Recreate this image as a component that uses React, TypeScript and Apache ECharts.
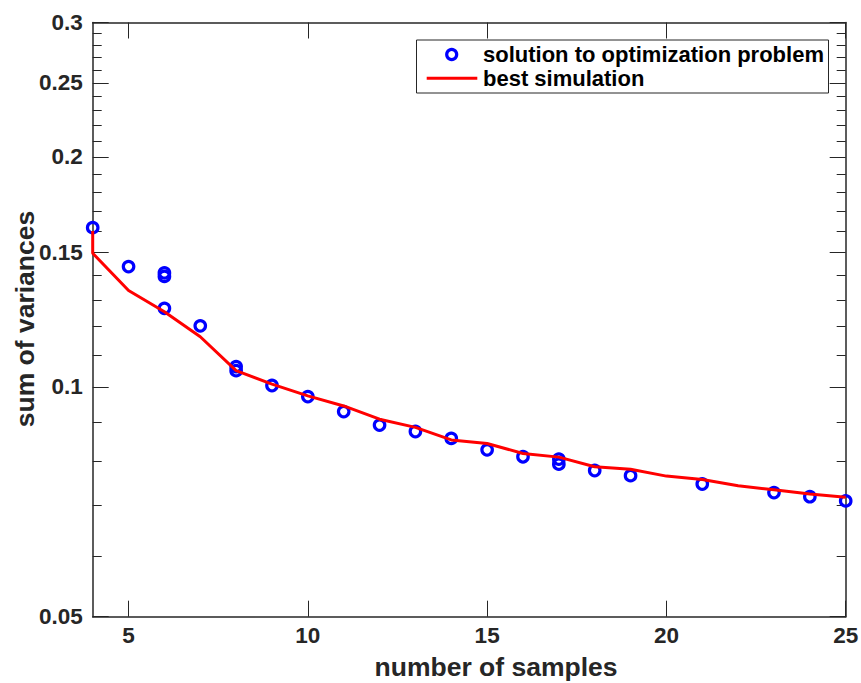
import React, { useEffect, useRef } from "react";
import * as echarts from "echarts";

const solutionX = [4, 5, 6, 6, 6, 7, 8, 8, 9, 10, 11, 12, 13, 14, 15, 16, 17, 17, 18, 19, 21, 23, 24, 25];
const solutionY = [0.1616, 0.1437, 0.141, 0.1395, 0.1267, 0.1202, 0.1063, 0.105, 0.1004, 0.0971, 0.0928, 0.0891, 0.0874, 0.0856, 0.0827, 0.081, 0.0804, 0.0792, 0.0777, 0.0765, 0.0746, 0.0727, 0.0718, 0.0709];

const simX = [4, 4, 5, 6, 7, 8, 9, 10, 11, 12, 13, 14, 15, 16, 17, 18, 19, 20, 21, 22, 23, 24, 25];
const simY = [0.16, 0.1496, 0.1337, 0.1254, 0.1163, 0.105, 0.1008, 0.0973, 0.0944, 0.0907, 0.0885, 0.0852, 0.0843, 0.0818, 0.0809, 0.0786, 0.078, 0.0764, 0.0756, 0.0742, 0.0733, 0.0724, 0.0717];

const xTicks = [5, 10, 15, 20, 25];
const yMajorTicks = [0.05, 0.1, 0.15, 0.2, 0.25, 0.3];
const yMinorTicks = [0.06, 0.07, 0.08, 0.09, 0.11, 0.12, 0.13, 0.14, 0.16, 0.17, 0.18, 0.19, 0.21, 0.22, 0.23, 0.24, 0.26, 0.27, 0.28, 0.29];

const legendNames = ["solution to optimization problem", "best simulation"];
const xTitle = "number of samples";
const yTitle = "sum of variances";

const FONT = "'Liberation Sans', Arial, Helvetica, sans-serif";
const AX = "#262626";

export default function App() {
  const ref = useRef<HTMLDivElement>(null);
  useEffect(() => {
    document.body.style.margin = "0";
    const chart = echarts.init(ref.current!, null, { renderer: "svg" });
    const xBase = (pos: string, labels: boolean) => ({
      type: "value",
      min: 4,
      max: 25,
      position: pos,
      splitLine: { show: false },
      axisLine: { show: true, lineStyle: { color: AX, width: 1.5 } },
      axisTick: { show: true, inside: true, length: 16, customValues: xTicks, lineStyle: { color: AX, width: 1 } },
      axisLabel: {
        show: labels,
        customValues: xTicks,
        margin: 7,
        color: AX,
        fontFamily: FONT,
        fontWeight: "bold",
        fontSize: 22.5,
      },
    });
    const yBase = (pos: string, major: boolean, labels: boolean) => ({
      type: "log",
      logBase: 10,
      min: 0.05,
      max: 0.3,
      position: pos,
      splitLine: { show: false },
      axisLine: { show: major, lineStyle: { color: AX, width: 1.5 } },
      axisTick: {
        show: true,
        inside: true,
        length: major ? 16 : 9,
        customValues: major ? yMajorTicks : yMinorTicks,
        lineStyle: { color: AX, width: 1 },
      },
      axisLabel: {
        show: labels,
        customValues: yMajorTicks,
        margin: 10,
        color: AX,
        fontFamily: FONT,
        fontWeight: "bold",
        fontSize: 22.5,
        formatter: (v: number) => String(+Number(v).toFixed(2)),
      },
    });

    chart.setOption({
      animation: false,
      backgroundColor: "#ffffff",
      grid: { left: 92.7, right: 15.3, top: 22.5, bottom: 66.3, containLabel: false, outerBoundsMode: "none" },
      xAxis: [xBase("bottom", true), xBase("top", false)],
      yAxis: [yBase("left", true, true), yBase("left", false, false), yBase("right", true, false), yBase("right", false, false)],
      series: [
        {
          type: "scatter",
          name: legendNames[0],
          xAxisIndex: 0,
          yAxisIndex: 0,
          clip: false,
          symbol: "circle",
          symbolSize: 10.5,
          itemStyle: { color: "rgba(255,255,255,0)", borderColor: "#0000ff", borderWidth: 3.2, opacity: 1 },
          data: solutionX.map((x, i) => [x, solutionY[i]]),
          z: 2,
        },
        {
          type: "line",
          name: legendNames[1],
          xAxisIndex: 0,
          yAxisIndex: 0,
          clip: false,
          symbol: "none",
          lineStyle: { color: "#ff0000", width: 3 },
          itemStyle: { color: "#ff0000" },
          data: simX.map((x, i) => [x, simY[i]]),
          z: 3,
        },
      ],
      graphic: [
        {
          type: "text",
          x: 496,
          y: 667,
          style: { text: xTitle, fill: AX, font: `bold 26.5px ${FONT}`, align: "center", verticalAlign: "middle" },
        },
        {
          type: "text",
          x: 24.5,
          y: 319,
          rotation: Math.PI / 2,
          style: { text: yTitle, fill: AX, font: `bold 26.5px ${FONT}`, align: "center", verticalAlign: "middle" },
        },
        {
          type: "rect",
          shape: { x: 416.5, y: 40, width: 412, height: 53 },
          style: { fill: "#ffffff", stroke: AX, lineWidth: 1 },
          z: 10,
        },
        {
          type: "circle",
          shape: { cx: 451.7, cy: 54.5, r: 5 },
          style: { fill: "none", stroke: "#0000ff", lineWidth: 3.2 },
          z: 11,
        },
        {
          type: "line",
          shape: { x1: 426.7, y1: 78.3, x2: 477.3, y2: 78.3 },
          style: { stroke: "#ff0000", lineWidth: 3 },
          z: 11,
        },
        {
          type: "text",
          x: 483,
          y: 54.5,
          style: { text: legendNames[0], fill: "#000", font: `bold 22px ${FONT}`, verticalAlign: "middle" },
          z: 11,
        },
        {
          type: "text",
          x: 483,
          y: 78.3,
          style: { text: legendNames[1], fill: "#000", font: `bold 22px ${FONT}`, verticalAlign: "middle" },
          z: 11,
        },
      ],
    });
    return () => chart.dispose();
  }, []);
  return <div ref={ref} style={{ position: "absolute", left: 0, top: 0, width: 861, height: 683 }} />;
}
